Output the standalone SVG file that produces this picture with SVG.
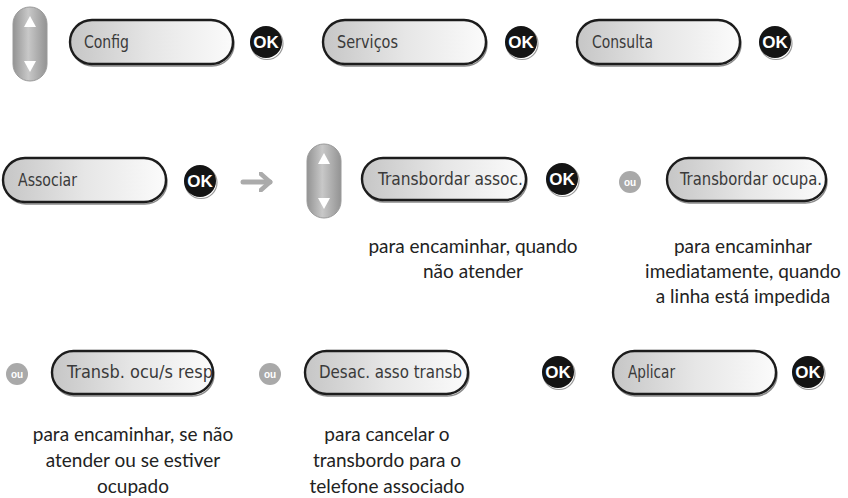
<svg xmlns="http://www.w3.org/2000/svg" width="848" height="498" viewBox="0 0 848 498">
<style>
.pill{fill:url(#pg);stroke:#1c1c1c;stroke-width:2.4}
.pshadow{fill:none;stroke:#8a8a8a;stroke-width:1.5}
.lcd{font-family:"DejaVu Sans Condensed","DejaVu Sans",sans-serif;font-size:17px;fill:#3a3a3a}
.okc{fill:#141414}
.okr{fill:none;stroke:#9a9a9a;stroke-width:1.2}
.okt{font-family:"Liberation Sans",Arial,sans-serif;font-weight:bold;font-size:17px;fill:#fff;text-anchor:middle}
.ouc{fill:#a9a9a9}
.out{font-family:"Liberation Sans",Arial,sans-serif;font-weight:bold;font-size:10px;fill:#fff;text-anchor:middle}
.desc{font-family:Lato,"Open Sans",sans-serif;font-size:19px;fill:#222;text-anchor:middle}
.nav{fill:url(#ng);stroke:#9a9a9a;stroke-width:1}
.tri{fill:#fff}
</style>
<defs>
<linearGradient id="pg" x1="0" y1="0" x2="1" y2="0">
<stop offset="0" stop-color="#c6c6c6"/>
<stop offset="0.5" stop-color="#e6e6e6"/>
<stop offset="1" stop-color="#fbfbfb"/>
</linearGradient>
<linearGradient id="ng" x1="0" y1="0" x2="1" y2="0">
<stop offset="0" stop-color="#939393"/>
<stop offset="0.45" stop-color="#c8c8c8"/>
<stop offset="1" stop-color="#939393"/>
</linearGradient>
<marker id="ah" markerWidth="4" markerHeight="4" refX="2.2" refY="2" orient="auto" markerUnits="strokeWidth">
<path d="M0.3,0.3 L2.2,2 L0.3,3.7" fill="none" stroke="#ababab" stroke-width="0.9" stroke-linecap="round" stroke-linejoin="round"/>
</marker>
<symbol id="ok" overflow="visible">
<circle class="okr" cx="1" cy="1.5" r="16"/>
<circle class="okc" cx="0" cy="0" r="16"/>
<text class="okt" x="0" y="6">OK</text>
</symbol>
<symbol id="ou" overflow="visible">
<circle class="ouc" cx="0" cy="0" r="11"/>
<text class="out" x="0" y="3.5">ou</text>
</symbol>
<symbol id="navkey" overflow="visible">
<rect class="nav" x="0" y="0" width="34" height="74" rx="17"/>
<path class="tri" d="M17,9 L23,20 L11,20 Z"/>
<path class="tri" d="M11,54 L23,54 L17,65 Z"/>
</symbol>
</defs>
<rect width="848" height="498" fill="#fff"/>

<g id="connectors">
<line x1="243" y1="182" x2="270" y2="182" stroke="#ababab" stroke-width="5" stroke-linecap="round" marker-end="url(#ah)"/>
</g>

<g id="nav1"><use href="#navkey" x="13" y="7"/></g>

<g id="pill-config">
<rect class="pshadow" x="71" y="22" width="163" height="44" rx="22"/>
<rect class="pill" x="70" y="20" width="163" height="44" rx="22"/>
<text class="lcd" x="84" y="48" textLength="45" lengthAdjust="spacingAndGlyphs">Config</text>
</g>
<g id="ok1"><use href="#ok" x="266" y="42"/></g>

<g id="pill-servicos">
<rect class="pshadow" x="324" y="22" width="163" height="44" rx="22"/>
<rect class="pill" x="323" y="20" width="163" height="44" rx="22"/>
<text class="lcd" x="337" y="48" textLength="61" lengthAdjust="spacingAndGlyphs">Serviços</text>
</g>
<g id="ok2"><use href="#ok" x="521" y="42"/></g>

<g id="pill-consulta">
<rect class="pshadow" x="578" y="22" width="163" height="44" rx="22"/>
<rect class="pill" x="577" y="20" width="163" height="44" rx="22"/>
<text class="lcd" x="592" y="48" textLength="61" lengthAdjust="spacingAndGlyphs">Consulta</text>
</g>
<g id="ok3"><use href="#ok" x="775" y="42"/></g>

<g id="pill-associar">
<rect class="pshadow" x="4" y="160" width="163" height="44" rx="22"/>
<rect class="pill" x="3" y="158" width="163" height="44" rx="22"/>
<text class="lcd" x="18" y="186" textLength="59" lengthAdjust="spacingAndGlyphs">Associar</text>
</g>
<g id="ok4"><use href="#ok" x="200" y="181"/></g>

<g id="nav2"><use href="#navkey" x="307" y="144"/></g>

<g id="pill-transb-assoc">
<rect class="pshadow" x="363" y="160" width="164" height="42" rx="21"/>
<rect class="pill" x="362" y="158" width="164" height="42" rx="21"/>
<text class="lcd" x="378" y="185" textLength="145" lengthAdjust="spacingAndGlyphs">Transbordar assoc.</text>
</g>
<g id="ok5"><use href="#ok" x="562" y="179"/></g>
<g id="desc1">
<text class="desc" x="473" y="253">para encaminhar, quando</text>
<text class="desc" x="473" y="278">não atender</text>
</g>

<g id="ou1"><use href="#ou" x="630" y="182"/></g>
<g id="pill-transb-ocupa">
<rect class="pshadow" x="668" y="160" width="159" height="43" rx="21.5"/>
<rect class="pill" x="667" y="158" width="159" height="43" rx="21.5"/>
<text class="lcd" x="680" y="185" textLength="142" lengthAdjust="spacingAndGlyphs">Transbordar ocupa.</text>
</g>
<g id="desc2">
<text class="desc" x="743" y="253">para encaminhar</text>
<text class="desc" x="743" y="278">imediatamente, quando</text>
<text class="desc" x="743" y="303">a linha está impedida</text>
</g>

<g id="ou2"><use href="#ou" x="17" y="374"/></g>
<g id="pill-transb-ocu-resp">
<rect class="pshadow" x="53" y="353" width="161" height="43" rx="21.5"/>
<rect class="pill" x="52" y="351" width="161" height="43" rx="21.5"/>
<text class="lcd" x="67" y="378" textLength="146" lengthAdjust="spacingAndGlyphs">Transb. ocu/s resp</text>
</g>
<g id="desc3">
<text class="desc" x="133" y="441">para encaminhar, se não</text>
<text class="desc" x="133" y="467">atender ou se estiver</text>
<text class="desc" x="133" y="493">ocupado</text>
</g>

<g id="ou3"><use href="#ou" x="270" y="374"/></g>
<g id="pill-desac">
<rect class="pshadow" x="306" y="353" width="163" height="43" rx="21.5"/>
<rect class="pill" x="305" y="351" width="163" height="43" rx="21.5"/>
<text class="lcd" x="319" y="378" textLength="143" lengthAdjust="spacingAndGlyphs">Desac. asso transb</text>
</g>
<g id="desc4">
<text class="desc" x="387" y="441">para cancelar o</text>
<text class="desc" x="387" y="467">transbordo para o</text>
<text class="desc" x="387" y="493">telefone associado</text>
</g>

<g id="ok6"><use href="#ok" x="558" y="372"/></g>

<g id="pill-aplicar">
<rect class="pshadow" x="614" y="353" width="163" height="43" rx="21.5"/>
<rect class="pill" x="613" y="351" width="163" height="43" rx="21.5"/>
<text class="lcd" x="628" y="378" textLength="47" lengthAdjust="spacingAndGlyphs">Aplicar</text>
</g>
<g id="ok7"><use href="#ok" x="808" y="372"/></g>
</svg>
